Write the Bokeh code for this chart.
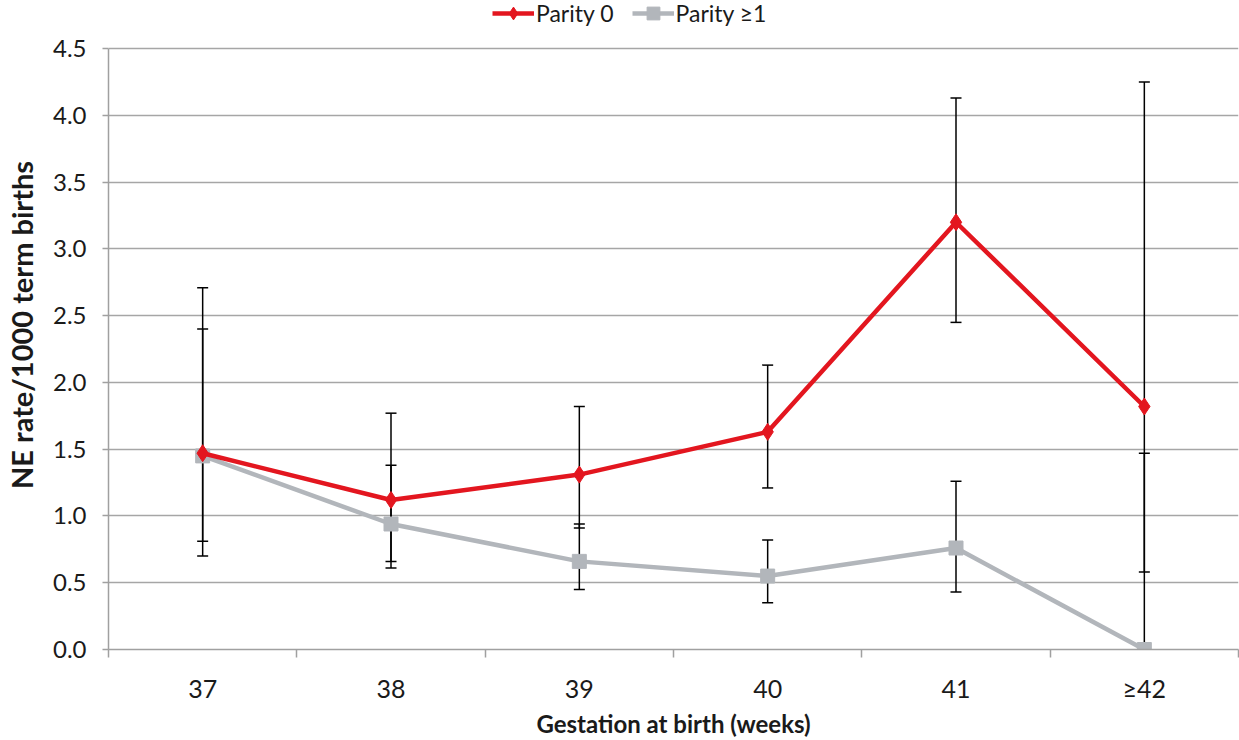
from bokeh.plotting import figure
from bokeh.models import (ColumnDataSource, Range1d, FixedTicker, Whisker, TeeHead,
                          Legend, LegendItem, NumeralTickFormatter)
from bokeh.embed import file_html
from bokeh.resources import INLINE

# ---- data ----
weeks = ["37", "38", "39", "40", "41", "\u226542"]
parity0 = [1.47, 1.12, 1.31, 1.63, 3.20, 1.82]
parity0_lo = [0.81, 0.66, 0.91, 1.21, 2.45, 0.58]
parity0_hi = [2.71, 1.77, 1.82, 2.13, 4.13, 4.25]
parity1 = [1.45, 0.94, 0.66, 0.55, 0.76, 0.0]
parity1_lo = [0.70, 0.61, 0.45, 0.35, 0.43, 0.0]
parity1_hi = [2.40, 1.38, 0.94, 0.82, 1.26, 1.47]
y_ticks = [0.0, 0.5, 1.0, 1.5, 2.0, 2.5, 3.0, 3.5, 4.0, 4.5]

RED = "#E3161F"
GRAY = "#B2B6BB"
FONT = "Lato"

xpos = [i + 0.5 for i in range(len(weeks))]
y_max = y_ticks[-1]
# frame spans the full height down to the x axis; the data top (4.5) sits 49px below the frame top
y_top = y_max * 660.0 / 611.0

p = figure(width=1239, height=740, output_backend="svg", toolbar_location=None,
           x_range=Range1d(0, len(weeks)), y_range=Range1d(0, y_top),
           min_border_left=107, min_border_right=1, min_border_top=0,
           min_border_bottom=80)
p.outline_line_color = None
p.background_fill_color = "white"
p.border_fill_color = "white"

s0 = ColumnDataSource(dict(x=xpos, y=parity0, lo=parity0_lo, hi=parity0_hi))
s1 = ColumnDataSource(dict(x=xpos, y=parity1, lo=parity1_lo, hi=parity1_hi))

l1 = p.line("x", "y", source=s1, line_color=GRAY, line_width=4.5)
m1 = p.scatter("x", "y", source=s1, marker="square", size=14, fill_color=GRAY, line_color=GRAY)
l0 = p.line("x", "y", source=s0, line_color=RED, line_width=4.5)
m0 = p.scatter("x", "y", source=s0, marker="diamond", size=17, fill_color=RED, line_color=RED)

for src in (s0, s1):
    w = Whisker(base="x", lower="lo", upper="hi", source=src, line_color="black", line_width=1.5,
                upper_head=TeeHead(size=11, line_color="black", line_width=1.5),
                lower_head=TeeHead(size=11, line_color="black", line_width=1.5))
    p.add_layout(w)

# x axis
xa = p.xaxis[0]
xa.ticker = FixedTicker(ticks=xpos, minor_ticks=list(range(len(weeks) + 1)))
xa.major_label_overrides = {x: w for x, w in zip(xpos, weeks)}
xa.major_tick_out = 0
xa.major_tick_in = 0
xa.minor_tick_out = 8
xa.minor_tick_in = 0
xa.minor_tick_line_color = "#A0A0A0"
xa.minor_tick_line_width = 1.5
xa.axis_line_color = "#A0A0A0"
xa.axis_line_width = 1.5
xa.major_label_text_font = FONT
xa.major_label_text_font_size = "25px"
xa.major_label_text_color = "#1a1a1a"
xa.major_label_standoff = 15
xa.axis_label = "Gestation at birth (weeks)"
xa.axis_label_text_font = FONT
xa.axis_label_text_font_style = "bold"
xa.axis_label_text_font_size = "24px"
xa.axis_label_text_color = "#1a1a1a"
xa.axis_label_standoff = 3

# y axis
ya = p.yaxis[0]
ya.bounds = (0, y_max)
ya.ticker = FixedTicker(ticks=y_ticks)
ya.formatter = NumeralTickFormatter(format="0.0")
ya.major_tick_out = 6
ya.major_tick_in = 0
ya.minor_tick_out = 0
ya.minor_tick_in = 0
ya.major_tick_line_color = "#A0A0A0"
ya.major_tick_line_width = 1.5
ya.axis_line_color = "#A0A0A0"
ya.axis_line_width = 1.5
ya.major_label_text_font = FONT
ya.major_label_text_font_size = "24px"
ya.major_label_text_color = "#1a1a1a"
ya.major_label_standoff = 16
ya.axis_label = "NE rate/1000 term births"
ya.axis_label_text_font = FONT
ya.axis_label_text_font_style = "bold"
ya.axis_label_text_font_size = "29px"
ya.axis_label_text_color = "#1a1a1a"
ya.axis_label_standoff = 11

p.xgrid.grid_line_color = None
p.ygrid.ticker = FixedTicker(ticks=y_ticks)
p.ygrid.grid_line_color = "#A6A6A6"
p.ygrid.grid_line_width = 1.5

legend = Legend(items=[LegendItem(label="Parity 0", renderers=[l0, m0]),
                       LegendItem(label="Parity \u22651", renderers=[l1, m1])],
                orientation="horizontal", location=(384, 620),
                label_text_font=FONT, label_text_font_size="23px", label_text_color="#1a1a1a",
                glyph_width=42, glyph_height=32, label_standoff=2, spacing=18,
                padding=2, margin=0, border_line_color=None, background_fill_alpha=0)
p.add_layout(legend, "center")

open("out.html", "w").write(file_html(p, INLINE))
